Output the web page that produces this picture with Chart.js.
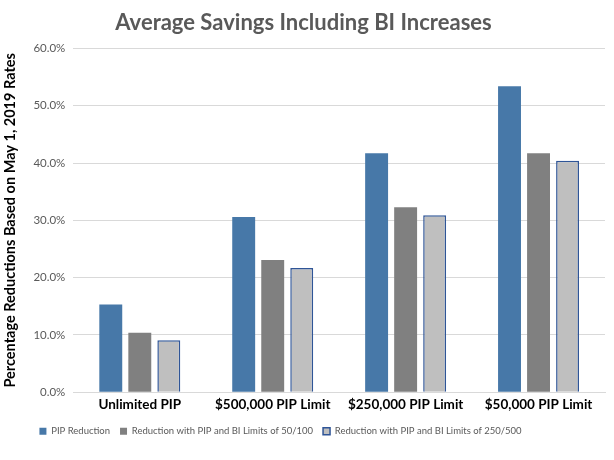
<!DOCTYPE html>
<html>
<head>
<meta charset="utf-8">
<script src="https://cdn.jsdelivr.net/npm/chart.js@4.4.1/dist/chart.umd.min.js"></script>
<style>
  html, body { margin: 0; padding: 0; background: #fff; }
  #wrap { width: 614px; height: 460px; }
</style>
</head>
<body>
<div id="wrap"><canvas id="savingsChart"></canvas></div>
<script>
const categories = ['Unlimited PIP', '$500,000 PIP Limit', '$250,000 PIP Limit', '$50,000 PIP Limit'];
const seriesNames = ['PIP Reduction', 'Reduction with PIP and BI Limits of 50/100', 'Reduction with PIP and BI Limits of 250/500'];
const pipReduction = [15.3, 30.6, 41.7, 53.4];
const limits50100 = [10.4, 23.1, 32.3, 41.7];
const limits250500 = [9.1, 21.7, 30.9, 40.4];

const FONT = 'Lato, "Open Sans", sans-serif';

// Excel places the legend a little left of centre
const legendShift = {
    id: 'legendShift',
    afterLayout(chart) {
        chart.legend.left -= 23;
        chart.legend.right -= 23;
    }
};

const ctx = document.getElementById('savingsChart').getContext('2d');
new Chart(ctx, {
    type: 'bar',
    data: {
        labels: categories,
        datasets: [{
            label: seriesNames[0],
            data: pipReduction,
            backgroundColor: '#4778A8',
            borderWidth: 0
        }, {
            label: seriesNames[1],
            data: limits50100,
            backgroundColor: '#808080',
            borderWidth: 0
        }, {
            label: seriesNames[2],
            data: limits250500,
            backgroundColor: '#BFBFBF',
            borderColor: '#2F5597',
            borderWidth: 1.5
        }]
    },
    options: {
        maintainAspectRatio: false,
        responsive: true,
        animation: false,
        categoryPercentage: 0.655,
        barPercentage: 0.79,
        layout: {
            padding: { top: 10, bottom: 14, left: 2, right: 9 }
        },
        plugins: {
            title: {
                display: true,
                text: 'Average Savings Including BI Increases',
                color: '#595959',
                font: { family: FONT, size: 22, weight: 'bold' },
                padding: { top: 0, bottom: 12 }
            },
            legend: {
                position: 'bottom',
                align: 'center',
                labels: {
                    color: '#595959',
                    font: { family: FONT, size: 9.5 },
                    boxWidth: 7,
                    boxHeight: 7,
                    padding: 10
                }
            },
            tooltip: { enabled: false }
        },
        scales: {
            x: {
                grid: { display: false, drawTicks: false },
                border: { color: '#D9D9D9' },
                ticks: {
                    color: '#000',
                    font: { family: FONT, size: 13.5, weight: 'bold' },
                    padding: 4,
                    maxRotation: 0,
                    minRotation: 0
                }
            },
            y: {
                min: 0,
                max: 60,
                ticks: {
                    stepSize: 10,
                    color: '#595959',
                    font: { family: FONT, size: 11.5 },
                    padding: 8,
                    callback: v => v.toFixed(1) + '%'
                },
                grid: { color: '#D9D9D9', drawTicks: false },
                border: { display: false },
                title: {
                    display: true,
                    text: 'Percentage Reductions Based on May 1, 2019 Rates',
                    color: '#000',
                    font: { family: FONT, size: 14.5, weight: 'bold' },
                    padding: { top: 0, bottom: 6 }
                }
            }
        }
    },
    plugins: [legendShift]
});
</script>
</body>
</html>
